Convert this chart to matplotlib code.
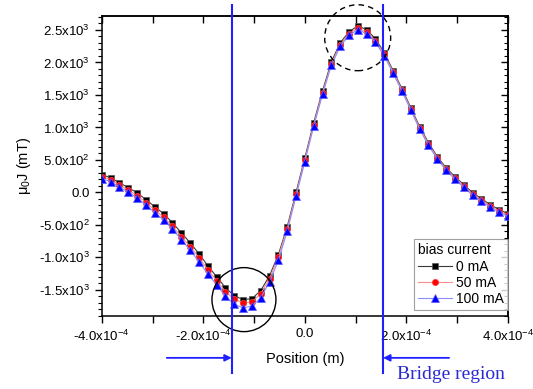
import matplotlib
matplotlib.use("Agg")
import matplotlib.pyplot as plt
from matplotlib.patches import Ellipse
from matplotlib.ticker import FixedLocator, FixedFormatter, MultipleLocator, NullFormatter

plt.rcParams["font.family"] = "Liberation Sans"
plt.rcParams["mathtext.fontset"] = "custom"
plt.rcParams["mathtext.rm"] = "Liberation Sans"
plt.rcParams["mathtext.it"] = "Liberation Sans:italic"
plt.rcParams["mathtext.bf"] = "Liberation Sans:bold"

# Position grid (micrometres)
POSITION_UM = [-400.0, -382.6, -365.2, -347.8, -330.4, -313.0, -295.7, -278.3,
               -260.9, -243.5, -226.1, -208.7, -191.3, -173.9, -156.5, -139.1,
               -121.7, -104.3, -87.0, -69.6, -52.2, -34.8, -17.4, 0.0,
               17.4, 34.8, 52.2, 69.6, 87.0, 104.3, 121.7, 139.1,
               156.5, 173.9, 191.3, 208.7, 226.1, 243.5, 260.9, 278.3,
               295.7, 313.0, 330.4, 347.8, 365.2, 382.6, 400.0]

# mu0 J (mT) for each bias current
J_0MA = [272, 226, 149, 72, -5, -112, -220, -328, -466, -620, -774, -943,
         -1128, -1297, -1466, -1589, -1650, -1635, -1512, -1281, -958, -528,
         0, 534, 1072, 1564, 2010, 2302, 2471, 2564, 2502, 2364, 2148, 1871,
         1595, 1303, 1010, 764, 549, 379, 241, 118, -5, -97, -189, -266, -328]
J_50MA = [242, 196, 114, 32, -50, -157, -270, -383, -521, -680, -834, -1003,
          -1188, -1357, -1526, -1644, -1700, -1685, -1562, -1326, -993, -558,
          -30, 504, 1042, 1534, 1980, 2272, 2441, 2529, 2467, 2334, 2123, 1851,
          1575, 1283, 990, 744, 529, 359, 221, 98, -25, -117, -209, -286, -348]
J_100MA = [212, 166, 84, 2, -85, -197, -310, -423, -566, -725, -889, -1068,
           -1253, -1422, -1601, -1724, -1775, -1750, -1622, -1376, -1048, -598,
           -60, 474, 1017, 1509, 1955, 2247, 2416, 2504, 2442, 2309, 2098, 1831,
           1555, 1263, 970, 724, 509, 339, 201, 78, -45, -137, -229, -306, -368]
SERIES_LABELS = ["0 mA", "50 mA", "100 mA"]

X_TICKS = [-4e-4, -3e-4, -2e-4, -1e-4, 0.0, 1e-4, 2e-4, 3e-4, 4e-4]
X_TICK_LABELS = [r"-4.0x10$^{-4}$", "", r"-2.0x10$^{-4}$", "", "0.0", "",
                 r"2.0x10$^{-4}$", "", r"4.0x10$^{-4}$"]
Y_TICKS = [-1500, -1000, -500, 0, 500, 1000, 1500, 2000, 2500]
Y_TICK_LABELS = [r"-1.5x10$^{3}$", r"-1.0x10$^{3}$", r"-5.0x10$^{2}$", "0.0",
                 r"5.0x10$^{2}$", r"1.0x10$^{3}$", r"1.5x10$^{3}$",
                 r"2.0x10$^{3}$", r"2.5x10$^{3}$"]

BRIDGE_EDGES = [-1.44e-4, 1.54e-4]
BLUE = "#1f1fff"

x = [p * 1e-6 for p in POSITION_UM]

fig = plt.figure(figsize=(5.33, 3.89), dpi=100)
ax = fig.add_axes([0.191, 0.188, 0.762, 0.771])

ax.plot(x, J_0MA, color="#3a3a3a", lw=0.8, marker="s", ms=4.5,
        mfc="black", mec="#555555", mew=0.5, label=SERIES_LABELS[0], zorder=3)
ax.plot(x, J_50MA, color="#ff8c8c", lw=0.8, marker="o", ms=4.5,
        mfc="#ff0000", mec="#ff4040", mew=0.5, label=SERIES_LABELS[1], zorder=4)
ax.plot(x, J_100MA, color="#8c8cff", lw=0.8, marker="^", ms=5.5,
        mfc="#0000ff", mec="#5a5aff", mew=0.5, label=SERIES_LABELS[2], zorder=5)

ax.set_xlim(-4e-4, 4e-4)
ax.set_ylim(-1900, 2715)

ax.xaxis.set_major_locator(FixedLocator(X_TICKS))
ax.xaxis.set_major_formatter(FixedFormatter(X_TICK_LABELS))
ax.yaxis.set_major_locator(FixedLocator(Y_TICKS))
ax.yaxis.set_major_formatter(FixedFormatter(Y_TICK_LABELS))
ax.yaxis.set_minor_locator(MultipleLocator(100))
ax.tick_params(axis="both", which="major", direction="out", length=5,
               width=1, labelsize=9.5, top=False, right=False)
ax.tick_params(axis="y", which="minor", direction="out", length=3, width=0.8)
ax.tick_params(axis="x", pad=4)
for s in ax.spines.values():
    s.set_linewidth(1.1)

# mirrored ticks pointing inwards on top / right
secx = ax.secondary_xaxis("top")
secx.xaxis.set_major_locator(FixedLocator(X_TICKS))
secx.xaxis.set_major_formatter(NullFormatter())
secx.tick_params(direction="in", length=5, width=1)
secx.spines["top"].set_linewidth(1.1)
secy = ax.secondary_yaxis("right")
secy.yaxis.set_major_locator(FixedLocator(Y_TICKS))
secy.yaxis.set_minor_locator(MultipleLocator(100))
secy.yaxis.set_major_formatter(NullFormatter())
secy.tick_params(which="major", direction="in", length=5, width=1)
secy.tick_params(which="minor", direction="in", length=3, width=0.8)
secy.spines["right"].set_linewidth(1.1)

ax.set_xlabel("Position (m)", fontsize=10.5, labelpad=6)
ax.set_ylabel("μ$_0$J (mT)", fontsize=10.5, labelpad=4)

leg = ax.legend(title="bias current", loc="lower right",
                bbox_to_anchor=(1.0, 0.02), borderaxespad=0, frameon=True,
                fancybox=False, edgecolor="#888888", fontsize=10,
                title_fontsize=10, handlelength=2.4, borderpad=0.3,
                labelspacing=0.15, handletextpad=0.3, alignment="left",
                numpoints=1)
leg.get_frame().set_linewidth(0.8)
leg.set_zorder(6)

# bridge region markers
for xv in BRIDGE_EDGES:
    ax.axvline(xv, ymin=-0.19, ymax=1.037, color=BLUE, lw=1.5,
               clip_on=False, zorder=7)
ax.annotate("", xy=(BRIDGE_EDGES[0], -0.14), xytext=(-2.72e-4, -0.14),
            xycoords=("data", "axes fraction"),
            textcoords=("data", "axes fraction"),
            arrowprops=dict(arrowstyle="-|>", color=BLUE, lw=1.3,
                            mutation_scale=10, shrinkA=0, shrinkB=0))
ax.annotate("", xy=(BRIDGE_EDGES[1], -0.14), xytext=(2.84e-4, -0.14),
            xycoords=("data", "axes fraction"),
            textcoords=("data", "axes fraction"),
            arrowprops=dict(arrowstyle="-|>", color=BLUE, lw=1.3,
                            mutation_scale=10, shrinkA=0, shrinkB=0))
fig.text(0.846, 0.036, "Bridge region", ha="center", va="center",
         family="Liberation Serif", fontsize=14, color="#2a2ad0")

# highlight circles around the minimum and maximum
ax.add_patch(Ellipse((-1.2e-4, -1650), width=1.26e-4, height=985, fill=False,
                     ec="black", lw=1.0, clip_on=False, zorder=6))
ax.add_patch(Ellipse((1.04e-4, 2380), width=1.30e-4, height=1015, fill=False,
                     ec="black", lw=1.0, ls=(0, (4, 3)), clip_on=False,
                     zorder=6))

fig.savefig("out.png", dpi=100)
